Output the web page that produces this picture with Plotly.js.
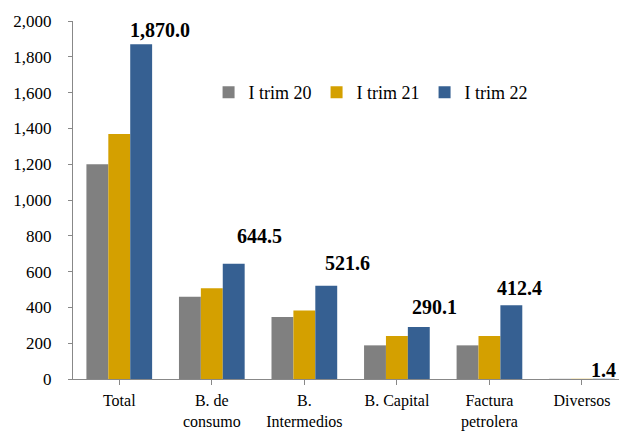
<!DOCTYPE html>
<html>
<head>
<meta charset="utf-8">
<script src="https://cdn.plot.ly/plotly-3.0.1.min.js"></script>
<style>html,body{margin:0;padding:0;overflow:hidden;background:#fff;}</style>
</head>
<body>
<div id="chart" style="width:619px;height:432px;"></div>
<script>
const categories = ["Total", "B. de<br>consumo", "B.<br>Intermedios", "B. Capital", "Factura<br>petrolera", "Diversos"];
const seriesNames = ["I trim 20", "I trim 21", "I trim 22"];
const trim20 = [1200, 460, 346, 188, 188, 1.0];
const trim21 = [1369, 507, 382, 240, 240, 1.2];
const trim22 = [1870.0, 644.5, 521.6, 290.1, 412.4, 1.4];
const colors = ["#808080", "#D4A000", "#366092"];
const yTicks = [0, 200, 400, 600, 800, 1000, 1200, 1400, 1600, 1800, 2000];

// label placement styling (pixel offsets from category center)
const labelXShift = [41, 48, 43, 38, 30, 22];
const labelYShift = [1, 15, 10, 7, 4, -4];

const idx = categories.map((c, i) => i);
const serif = "Liberation Serif";

const traces = [trim20, trim21, trim22].map((vals, k) => ({
  type: "bar",
  name: seriesNames[k],
  x: idx,
  y: vals,
  marker: {color: colors[k]},
  hoverinfo: "none"
}));

const fmt = v => v.toLocaleString("en-US", {minimumFractionDigits: 1, maximumFractionDigits: 1});

const annotations = trim22.map((v, i) => ({
  x: i, y: v, xref: "x", yref: "y",
  text: "<b>" + fmt(v) + "</b>",
  showarrow: false,
  xanchor: "center", yanchor: "bottom",
  xshift: labelXShift[i], yshift: labelYShift[i],
  font: {family: serif, size: 20, color: "#000"}
}));

const layout = {
  width: 619, height: 432,
  margin: {l: 73, r: 0, t: 21, b: 53},
  paper_bgcolor: "#fff", plot_bgcolor: "#fff",
  barmode: "group",
  bargap: 0.29, bargroupgap: 0,
  showlegend: true,
  legend: {
    orientation: "h",
    x: 0.545, xanchor: "center",
    y: 0.80, yanchor: "middle",
    font: {family: serif, size: 18, color: "#000"},
    itemwidth: 30,
    traceorder: "normal",
    bgcolor: "rgba(0,0,0,0)"
  },
  xaxis: {
    range: [-0.5, 5.4],
    tickmode: "array",
    tickvals: idx,
    ticktext: categories,
    tickson: "boundaries",
    ticks: "outside", ticklen: 5, tickcolor: "#888",
    ticklabelstandoff: 2,
    showline: true, linecolor: "#888", linewidth: 1,
    showgrid: false, zeroline: false,
    tickfont: {family: serif, size: 16, color: "#000"},
    fixedrange: true
  },
  yaxis: {
    range: [0, 2000],
    tickmode: "array",
    tickvals: yTicks,
    ticktext: yTicks.map(v => v.toLocaleString("en-US")),
    ticks: "outside", ticklen: 4, tickcolor: "#888",
    ticklabelstandoff: 13,
    showline: true, linecolor: "#888", linewidth: 1,
    showgrid: false, zeroline: false,
    tickfont: {family: serif, size: 17, color: "#000"},
    fixedrange: true
  },
  annotations: annotations,
  font: {family: serif}
};

Plotly.newPlot("chart", traces, layout, {displayModeBar: false, staticPlot: true});
</script>
</body>
</html>
